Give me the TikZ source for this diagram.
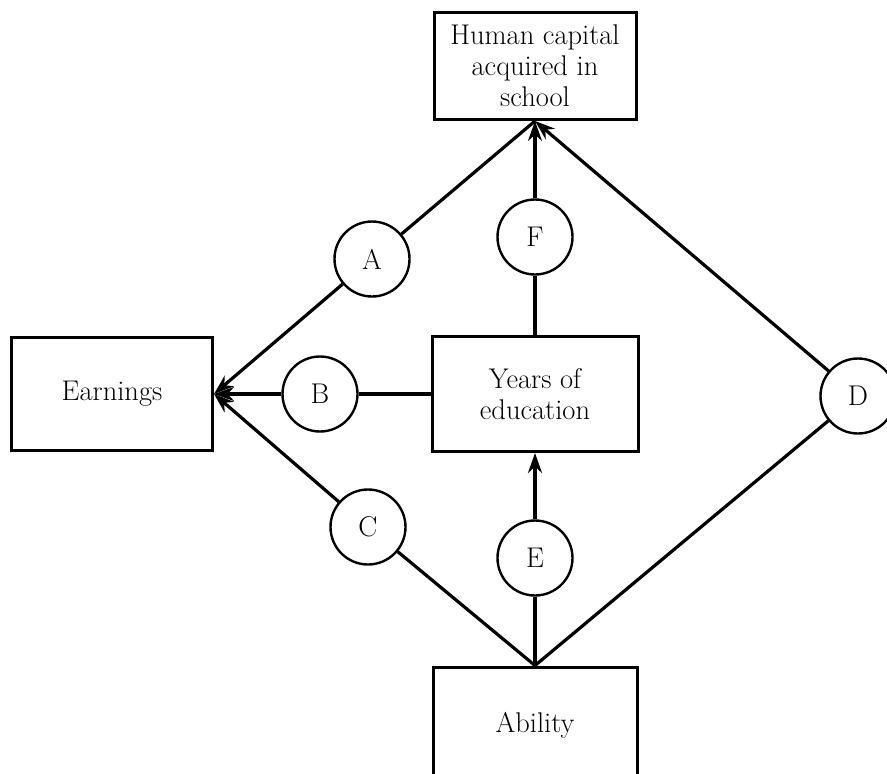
\documentclass[tikz,border=0pt]{standalone}
\usepackage{fontspec}
\usepackage{tikz}
\usetikzlibrary{arrows.meta}

\begin{document}
\begin{tikzpicture}[x=1pt,y=-1pt,
  font=\fontsize{28.5}{31}\selectfont,
  box/.style={draw,line width=3pt,align=center,inner sep=0pt},
  path/.style={draw,circle,line width=2.4pt,minimum size=75pt,inner sep=0pt},
  link/.style={line width=3.2pt},
  arr/.style={line width=3.2pt,-{Stealth[length=20pt,width=14pt]}}]
\useasboundingbox (0,0) rectangle (887,774);
\clip (0,0) rectangle (887,774);
% boxes
\node[box,minimum width=202pt,minimum height=107pt] (hc) at (535,66) {Human capital\\acquired in\\school};
\node[box,minimum width=201pt,minimum height=113pt] (earn) at (112,394) {Earnings};
\node[box,minimum width=206pt,minimum height=115pt] (yrs) at (535,394) {Years of\\education};
\node[box,minimum width=204pt,minimum height=116pt] (abl) at (535,725) {Ability};
% paths
\node[path] (A) at (372,259) {A};
\node[path] (B) at (320,394) {B};
\node[path] (C) at (368,527) {C};
\node[path] (D) at (858,396) {D};
\node[path] (E) at (535,558) {E};
\node[path] (F) at (535,237) {F};
% connectors
\draw[link] (hc.south) -- (A); \draw[arr] (A) -- (earn.east);
\draw[link] (yrs.west) -- (B); \draw[arr] (B) -- (earn.east);
\draw[link] (abl.north) -- (C); \draw[arr] (C) -- (earn.east);
\draw[link] (abl.north) -- (D); \draw[arr] (D) -- (hc.south);
\draw[link] (abl.north) -- (E); \draw[arr] (E) -- (yrs.south);
\draw[link] (yrs.north) -- (F); \draw[arr] (F) -- (hc.south);
\end{tikzpicture}
\end{document}
